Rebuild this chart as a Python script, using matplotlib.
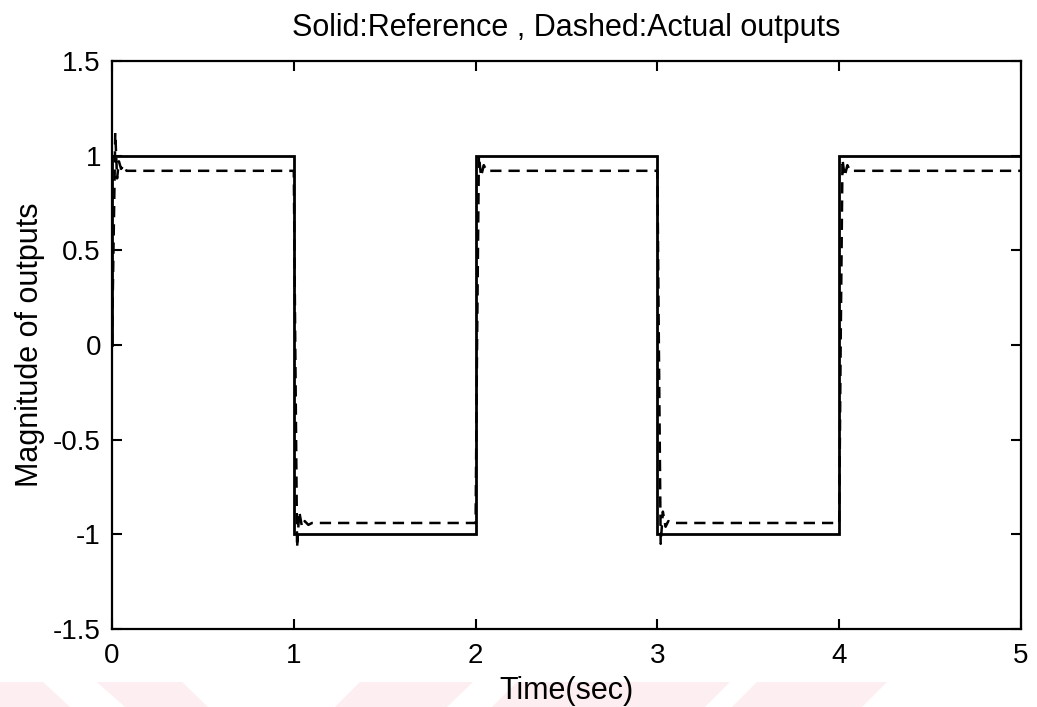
import matplotlib
matplotlib.use("Agg")
import matplotlib.pyplot as plt
from matplotlib.patches import Polygon

# Reference square wave (solid)
ref_t = [0.0, 0.0, 1.0, 1.0, 2.0, 2.0, 3.0, 3.0, 4.0, 4.0, 5.0]
ref_y = [0.0, 1.0, 1.0, -1.0, -1.0, 1.0, 1.0, -1.0, -1.0, 1.0, 1.0]

# Actual output (dashed)
act_t = [0.0, 0.008, 0.018, 0.028, 0.038, 0.05, 0.065, 0.08, 0.1,
         1.0, 1.008, 1.018, 1.03, 1.045, 1.06, 1.08, 1.1,
         2.0, 2.008, 2.018, 2.03, 2.045, 2.06, 2.08,
         3.0, 3.008, 3.018, 3.03, 3.045, 3.06, 3.08,
         4.0, 4.008, 4.018, 4.03, 4.045, 4.06, 4.08, 5.0]
act_y = [0.0, 0.5, 1.12, 0.88, 0.97, 0.93, 0.95, 0.92, 0.92,
         0.92, 0.0, -1.07, -0.88, -0.96, -0.93, -0.95, -0.94,
         -0.94, 0.0, 1.0, 0.89, 0.95, 0.92, 0.92,
         0.92, 0.0, -1.05, -0.88, -0.96, -0.93, -0.94,
         -0.94, 0.0, 0.98, 0.89, 0.95, 0.92, 0.92, 0.92]

x_ticks = [0, 1, 2, 3, 4, 5]
y_ticks = [-1.5, -1, -0.5, 0, 0.5, 1, 1.5]
y_tick_labels = ["-1.5", "-1", "-0.5", "0", "0.5", "1", "1.5"]

title = "Solid:Reference , Dashed:Actual outputs"
xlabel = "Time(sec)"
ylabel = "Magnitude of outputs"

plt.rcParams['font.family'] = ['Liberation Sans', 'DejaVu Sans']
fs = 20
lfs = 22

fig = plt.figure(figsize=(10.37, 7.07), dpi=100)

# faint watermark band at the bottom (drawn behind everything)
W, H = 1037, 707
wm = [
    [(0, 682), (43, 682), (70, 707), (0, 707)],
    [(97, 682), (182, 682), (208, 707), (125, 707)],
    [(360, 682), (473, 682), (447, 707), (335, 707)],
    [(517, 682), (730, 682), (705, 707), (492, 707)],
    [(757, 682), (887, 682), (862, 707), (732, 707)],
]
for poly in wm:
    pts = [(x / W, 1 - y / H) for x, y in poly]
    fig.patches.append(Polygon(pts, closed=True, transform=fig.transFigure,
                               facecolor='#fdeef1', edgecolor='none', zorder=-5))

ax = fig.add_axes([112 / W, 1 - 629 / H, 909 / W, 568 / H])
ax.set_zorder(1)
ax.patch.set_alpha(0.0)
ax.plot(ref_t, ref_y, color='black', lw=2.0, solid_joinstyle='miter')
ax.plot(act_t, act_y, color='black', lw=1.8, linestyle=(0, (4.5, 2.8)))

ax.set_xlim(0, 5)
ax.set_ylim(-1.5, 1.5)
ax.set_xticks(x_ticks)
ax.set_xticklabels([str(v) for v in x_ticks])
ax.set_yticks(y_ticks)
ax.set_yticklabels(y_tick_labels)
ax.tick_params(direction='in', length=7, width=1.5, top=True, right=True,
               labelsize=fs)
ax.tick_params(axis='x', pad=10)
ax.tick_params(axis='y', pad=8)
for s in ax.spines.values():
    s.set_linewidth(1.6)

ax.set_title(title, fontsize=lfs, pad=18)
ax.set_xlabel(xlabel, fontsize=lfs, labelpad=5)
ax.set_ylabel(ylabel, fontsize=lfs, labelpad=6)

fig.savefig("out.png", dpi=100)
